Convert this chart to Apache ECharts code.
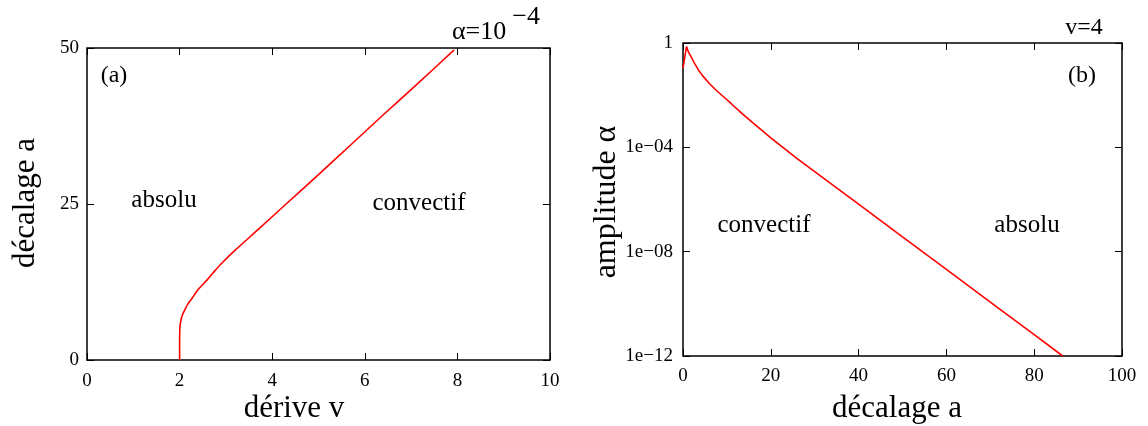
<!DOCTYPE html>
<html><head><meta charset="utf-8">
<script src="https://cdn.jsdelivr.net/npm/echarts@6/dist/echarts.min.js"></script>
<style>html,body{margin:0;background:#fff}#c{width:1148px;height:426px}</style>
</head><body><div id="c"></div>
<script>
// Panel (a): boundary between absolute and convective regimes, alpha = 1e-4
const deriveV   = [2.0, 2.0, 2.003, 2.01, 2.03, 2.06, 2.11, 2.18, 2.27, 2.4, 2.59, 2.75, 2.91, 3.2, 3.71, 4.3, 5.0, 5.7, 6.4, 7.1, 7.93];
const decalageA = [0, 3, 4.5, 5.5, 6.4, 7.2, 8.0, 9.0, 9.9, 11.3, 12.8, 14.2, 15.5, 17.6, 21.0, 25.0, 29.7, 34.5, 39.3, 44.0, 49.7];

// Panel (b): boundary amplitude versus shift, v = 4
const decalageB  = [0, 0.8, 1.2, 1.8, 2.5, 3.5, 4.5, 6, 7.5, 9.3, 11, 13.4, 16, 20, 26, 34, 40, 50, 60, 70, 80, 86.5];
const amplitudeB = [0.11, 0.74, 0.47, 0.31, 0.18, 0.093, 0.055, 0.028, 0.0158, 8.5e-3, 4.7e-3, 2.0e-3, 8.5e-4, 2.3e-4, 3.7e-5, 3.7e-6, 6.6e-7, 3.7e-8, 2.1e-9, 1.17e-10, 6.6e-12, 1.0e-12];

// Axis ranges and tick steps
const axisA = { xMin: 0, xMax: 10, xStep: 2, yMin: 0, yMax: 50, yStep: 25 };
const axisB = { xMin: 0, xMax: 100, xStep: 20, yMin: 1e-12, yMax: 1, yDecades: 4 };

// Text drawn on the panels
const titlesA = { x: 'dérive v', y: 'décalage a', tag: '(a)' };
const titlesB = { x: 'décalage a', y: 'amplitude α', tag: '(b)', top: 'v=4' };
const labelsA = ['absolu', 'convectif'];
const labelsB = ['convectif', 'absolu'];

const SERIF = '"Liberation Serif", "DejaVu Serif", serif';
const tickFont = { fontFamily: SERIF, fontSize: 19, color: '#000' };

function logLabel(v) {
  const e = Math.round(Math.log10(v));
  if (e === 0) return '1';
  const s = String(Math.abs(e)).padStart(2, '0');
  return '1e' + (e < 0 ? '\u2212' : '+') + s;
}

// Each panel is boxed by its grid border; every side carries inward ticks.
function boxAxis(gridIndex, type, pos, extra) {
  return Object.assign({
    gridIndex, type, position: pos,
    axisLine: { show: false, onZero: false },
    axisTick: { show: true, inside: true, length: 7, lineStyle: { color: '#000', width: 1 } },
    minorTick: { show: false },
    splitLine: { show: false },
    axisLabel: { show: false }
  }, extra);
}

function txt(x, y, text, size, extra) {
  return {
    type: 'text', x, y, silent: true,
    rotation: extra && extra.rotation || 0,
    style: {
      text, font: size + 'px ' + SERIF, fill: '#000',
      textAlign: 'center', textVerticalAlign: 'middle'
    }
  };
}

const chart = echarts.init(document.getElementById('c'), null, { renderer: 'canvas' });

chart.setOption({
  animation: false,
  backgroundColor: '#fff',
  grid: [
    { left: 87, top: 48, width: 463, height: 312, show: true, borderColor: '#000', borderWidth: 1.5, backgroundColor: 'transparent' },
    { left: 683, top: 43, width: 439, height: 313, show: true, borderColor: '#000', borderWidth: 1.5, backgroundColor: 'transparent' }
  ],
  xAxis: [
    boxAxis(0, 'value', 'bottom', {
      min: axisA.xMin, max: axisA.xMax, interval: axisA.xStep,
      axisLabel: Object.assign({ show: true, margin: 12 }, tickFont)
    }),
    boxAxis(0, 'value', 'top', { min: axisA.xMin, max: axisA.xMax, interval: axisA.xStep }),
    boxAxis(1, 'value', 'bottom', {
      min: axisB.xMin, max: axisB.xMax, interval: axisB.xStep,
      axisLabel: Object.assign({ show: true, margin: 11 }, tickFont)
    }),
    boxAxis(1, 'value', 'top', { min: axisB.xMin, max: axisB.xMax, interval: axisB.xStep })
  ],
  yAxis: [
    boxAxis(0, 'value', 'left', {
      min: axisA.yMin, max: axisA.yMax, interval: axisA.yStep,
      axisLabel: Object.assign({ show: true, margin: 8 }, tickFont)
    }),
    boxAxis(0, 'value', 'right', { min: axisA.yMin, max: axisA.yMax, interval: axisA.yStep }),
    boxAxis(1, 'log', 'left', {
      logBase: 10, min: axisB.yMin, max: axisB.yMax, interval: axisB.yDecades,
      axisLabel: Object.assign({ show: true, margin: 10, formatter: logLabel }, tickFont)
    }),
    boxAxis(1, 'log', 'right', { logBase: 10, min: axisB.yMin, max: axisB.yMax, interval: axisB.yDecades })
  ],
  series: [
    {
      type: 'line', xAxisIndex: 0, yAxisIndex: 0,
      data: deriveV.map((v, i) => [v, decalageA[i]]),
      showSymbol: false, smooth: 0.2, clip: true,
      lineStyle: { color: '#ff0000', width: 1.6 }
    },
    {
      type: 'line', xAxisIndex: 2, yAxisIndex: 2,
      data: decalageB.map((a, i) => [a, amplitudeB[i]]),
      showSymbol: false, smooth: false, clip: true,
      lineStyle: { color: '#ff0000', width: 1.6 }
    }
  ],
  graphic: [
    // panel (a)
    txt(114, 76, titlesA.tag, 24),
    txt(164, 200, labelsA[0], 25),
    txt(419, 203, labelsA[1], 25),
    txt(294, 409, titlesA.x, 31),
    txt(26, 203, titlesA.y, 31, { rotation: Math.PI / 2 }),
    {
      type: 'text', left: 452, top: 4, silent: true,
      style: {
        text: '{b|α=10}{s|−4}',
        rich: {
          b: { font: '26px ' + SERIF, fill: '#000', padding: [16, 0, 0, 0] },
          s: { font: '26px ' + SERIF, fill: '#000', padding: [0, 0, 14, 6] }
        }
      }
    },
    // panel (b)
    txt(1084, 28, titlesB.top, 24),
    txt(1082, 76, titlesB.tag, 24),
    txt(764, 225, labelsB[0], 25),
    txt(1027, 225, labelsB[1], 25),
    txt(897, 409, titlesB.x, 31),
    txt(607, 202, titlesB.y, 32, { rotation: Math.PI / 2 })
  ]
});
</script>
</body></html>
